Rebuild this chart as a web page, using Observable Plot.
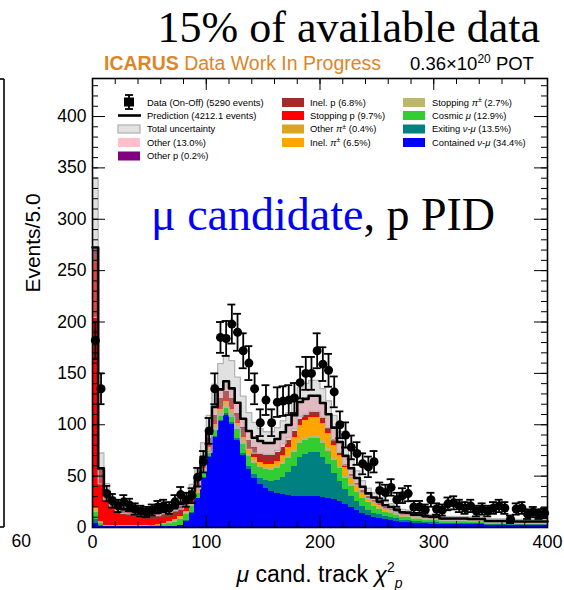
<!DOCTYPE html>
<html><head><meta charset="utf-8">
<script src="https://cdn.jsdelivr.net/npm/d3@7"></script>
<script src="https://cdn.jsdelivr.net/npm/@observablehq/plot@0.6"></script>
<style>body{margin:0;background:#fff} svg{display:block}</style>
</head><body><div id="chart"></div>
<script>
const binWidth = 5;
const categories = ["Contained ν-μ","Exiting ν-μ","Cosmic μ","Stopping π±","Inel. π±","Other π±","Stopping p","Inel. p","Other p","Other"];
const colors = ["#0000ff","#008080","#32cd32","#bdb76b","#ffa500","#daa520","#ff0000","#a52a2a","#800080","#ffc0cb"];

const containedNuMu = [4,1,0.5,0.5,0.5,0.5,0.5,0.5,0.5,0.5,0.5,0.5,0.5,0.8,1,2,6,14,28,48,68,88,103,109,100,85,70,56,48,42,38,35,33,32,31,30,30,30,30,30,29,28,27,25,22,19,17,14,12,10,9,8,7,6,5,5,4,4,3.5,3,3,3,3,3,3,3,2.5,2.5,2.5,2,2,2,2,1.5,1.5,1.5,1.5,1.5,1.5,1.5];
const exitingNuMu = [4,1,0.2,0.2,0.2,0.2,0.2,0.2,0.2,0.2,0.2,0.2,0.2,0.2,0.3,0.3,0.5,0.5,0.5,0.5,1,1,1,2,2,2,2,3,4,6,8,10,13,17,23,29,38,41,43,43,39,33,26,20,15,11,8,6,5,4,4,3,3,2.5,2,2,1.5,1.5,1.5,1.5,1.5,1,1,1,1,1,1,1,1,1,1,1,1,1,1,1,1,1,1,1];
const cosmicMu = [7,2,0.5,0.5,0.5,0.5,0.5,0.5,0.5,0.7,0.8,1,2,3,4,5,6,6,5,5,5,5,5,5,7,8,9,10,10,10,10,10,11,12,13,14,14,14,14,14,14,13,12,12,11,10,9,8,7,6,5,4,4,3,3,3,2.5,2.5,2,2,2,2,2,2,2,2,2,2,2,1.2,1.2,1.2,1.2,1.2,1.2,1.2,1.2,1.2,1.2,1.2];
const stoppingPi = [2,1,0.3,0.3,0.3,0.3,0.3,0.3,0.3,0.3,0.3,0.5,1,1,1.5,2,2,2,2,2,2,3,3,3,3,3,3,3,3,2,2,2,2,2.5,2.5,3,3,3,3,3,3,3,3,2.5,2,2,1.5,1,1,1,1,1,0.8,0.8,0.6,0.5,0.5,0.5,0.5,0.5,0.5,0.3,0.3,0.3,0.3,0.3,0.3,0.3,0.3,0.3,0.3,0.3,0.3,0.3,0.3,0.3,0.3,0.3,0.3,0.3];
const inelPi = [2,1,0.3,0.3,0.3,0.3,0.3,0.3,0.3,0.3,0.3,0.3,0.3,0.5,1,1,1,1.5,2,2,2,3,3,3,3,3,3,3,3,3,3,4,5,6,8,11,14,16,17,17,16,14,12,10,8,6,5,4,3,3,2,2,1.5,1.5,1.2,1,1,1,1,1,1,0.8,0.8,0.8,0.8,0.8,0.8,0.8,0.8,0.5,0.5,0.5,0.5,0.5,0.5,0.5,0.5,0.5,0.5,0.5];
const otherPi = [0.5,0,0,0,0,0,0,0,0,0,0,0,0,0,0,0,0,0,0.2,0.2,0.2,0.2,0.2,0.2,0.2,0.2,0.2,0.2,0.2,0.2,0.2,0.2,0.2,0.2,0.2,0.2,0.2,0.2,0.2,0.2,0.2,0.2,0.2,0.2,0.2,0.2,0.2,0.2,0.2,0.2,0.2,0,0,0,0,0,0,0,0,0,0,0,0,0,0,0,0,0,0,0,0,0,0,0,0,0,0,0,0,0];
const stoppingP = [238,40,24,16,12,10,9,8,7,6,5.5,5,4.5,4,4,3.5,3,3,3,3,3,3,3,3,3,3,2.5,2.5,2,2,2,2,2,2,2,2,2,2,2,2,2,2,2,1.5,1.5,1.5,1,1,1,1,1,0.8,0.8,0.8,0.7,0.7,0.6,0.6,0.6,0.6,0.6,0.4,0.4,0.4,0.4,0.4,0.4,0.4,0.4,0.4,0.4,0.4,0.4,0.4,0.4,0.4,0.4,0.4,0.4,0.4];
const inelP = [9,9,8,6,6,5,5,5,5,6,6,6,7,7,7,7,6,5,4,4,5,6,7,7,7,7,7,7,7,7,7,7,7,6,5,4,4,3,3,3,3,3,3,2,2,2,1.5,1.5,1,1,1,0.8,0.8,0.8,0.8,0.8,0.8,0.8,0.8,0.8,0.8,0.3,0.3,0.3,0.3,0.3,0.3,0.3,0.3,0.3,0.3,0.3,0.3,0.3,0.3,0.3,0.3,0.3,0.3,0.3];
const otherP = [3,0.5,0,0,0,0,0,0,0,0,0,0,0,0,0,0,0,0,0,0,0,0.2,0.2,0.2,0.2,0.2,0.2,0.2,0.2,0,0,0,0,0,0,0,0,0,0,0,0,0,0,0,0,0,0,0,0,0,0,0,0,0,0,0,0,0,0,0,0,0,0,0,0,0,0,0,0,0,0,0,0,0,0,0,0,0,0,0];
const other = [3,2,1,1,1,1,1,1,1,1,1,1,1,1.2,1.5,2,2,3,3,4,5,8,9,10,10,10,9,9,10,12,12,12,13,15,15,16,17,16,16,16,15,14,12,10,8,6,5,4,3,3,2,2,2,2,1.5,1.5,1.5,1.5,1.2,1.2,1.2,1,1,1,1,1,1,1,1,0.6,0.6,0.6,0.6,0.6,0.6,0.6,0.6,0.6,0.6,0.6];

const dataCounts = [182,135,33,26,21,25,22,18,16,15,17,20,21,19,25,32,27,31,49,64,94,135,185,184,198,190,172,160,135,102,124,102,122,123,124,126,141,150,150,172,159,153,132,100,90,78,72,62,59,64,36,34,39,27,31,33,20,20,17,27,18,17,23,24,21,19,21,16,18,16,19,21,19,8,18,19,13,15,13,14];
const dataErrors = [18,15,7.5,6.6,6,6.5,6,5.5,5.2,5,5.4,5.8,6,5.7,6.5,7.4,6.8,7.2,9,10.4,12.6,15,15,17,19,18,17,16.5,15,13,14.5,13,14.4,14.4,14.5,14.6,15.4,16,16,17,16.4,16,15,13,12.3,11.5,11,10.2,10,10.4,7.8,7.6,8,6.8,7.2,7.5,5.8,5.8,5.4,6.8,5.5,5.4,6.2,6.4,6,5.7,6,5.2,5.5,5.2,5.7,6,5.7,3.7,5.5,5.7,4.7,5,4.7,4.9];
const predUncertainty = [68,15,8,5,4,4,3.5,3.2,3,3,3,3,3.2,3.5,4,5,6,7,10,14,18,22,25,25,27,25,22,18,15,12,11,11,11,11,12,13,14,15,15,15,14,13,12,10,9,8,7,6,5,4.5,4,3.5,3.2,3,2.8,2.5,2.2,2.2,2.2,2.2,2.2,2,2,2,2,2,2,2,2,2,2,2,2,2,2,2,2,2,2,2];

const xTicks = [0,100,200,300,400];
const xMinorTicks = d3.range(0, 401, 20);
const yTicks = d3.range(0, 401, 50);
const yMinorTicks = d3.range(0, 431, 10);

const series = [containedNuMu, exitingNuMu, cosmicMu, stoppingPi, inelPi, otherPi, stoppingP, inelP, otherP, other];
const nBins = dataCounts.length;
const rows = [];
categories.forEach((c, k) => series[k].forEach((v, i) => rows.push({cat: c, x1: i*binWidth, x2: (i+1)*binWidth, v})));
const total = d3.range(nBins).map(i => d3.sum(series, s => s[i]));
const bins = d3.range(nBins).map(i => ({
  x1: i*binWidth, x2: (i+1)*binWidth, mid: (i+0.5)*binWidth,
  pred: total[i], lo: total[i]-predUncertainty[i], hi: total[i]+predUncertainty[i],
  d: dataCounts[i], dlo: dataCounts[i]-dataErrors[i], dhi: dataCounts[i]+dataErrors[i]
}));
const stepOf = key => bins.flatMap(b => [{x: b.x1, y: b[key]}, {x: b.x2, y: b[key]}]);

const W = 564, H = 590, mL = 92, mR = 17, mT = 78, mB = 63;
const fw = W - mL - mR, fh = H - mT - mB;
const capHalf = 3.5;

const plot = Plot.plot({
  width: W, height: H,
  marginLeft: mL, marginRight: mR, marginTop: mT, marginBottom: mB,
  style: {fontFamily: "'Liberation Sans', Arial, sans-serif", background: "white", overflow: "visible"},
  x: {domain: [0, 400], label: null},
  y: {domain: [0, 437], label: null},
  color: {domain: categories, range: colors},
  marks: [
    Plot.rectY(rows, {x1: "x1", x2: "x2", y: "v", fill: "cat", order: categories, shapeRendering: "crispEdges"}),
    Plot.rect(bins, {x1: "x1", x2: "x2", y1: "lo", y2: "hi", fill: "#b0b0b0", fillOpacity: 0.38, shapeRendering: "crispEdges"}),
    Plot.line(stepOf("hi"), {x: "x", y: "y", stroke: "#b4b4b4", strokeWidth: 1.3}),
    Plot.line(stepOf("lo"), {x: "x", y: "y", stroke: "#b4b4b4", strokeWidth: 1.3}),
    Plot.line(stepOf("pred"), {x: "x", y: "y", stroke: "black", strokeWidth: 2.6}),
    Plot.ruleX(bins, {x: "mid", y1: "dlo", y2: "dhi", stroke: "black", strokeWidth: 1.8, clip: true}),
    Plot.ruleY(bins, {y: "dhi", x1: b => b.mid - capHalf, x2: b => b.mid + capHalf, stroke: "black", strokeWidth: 1.8, clip: true}),
    Plot.ruleY(bins, {y: "dlo", x1: b => b.mid - capHalf, x2: b => b.mid + capHalf, stroke: "black", strokeWidth: 1.8, clip: true}),
    Plot.ruleY(bins, {y: "d", x1: "x1", x2: "x2", stroke: "black", strokeWidth: 1.8}),
    Plot.dot(bins, {x: "mid", y: "d", r: 4.5, fill: "black"}),
    Plot.frame({stroke: "black", strokeWidth: 1.6}),
    Plot.axisX({ticks: xTicks, tickSize: 0, tickPadding: 8, fontSize: 18}),
    Plot.axisY({ticks: yTicks, tickSize: 0, tickPadding: 6, fontSize: 17.5}),
    Plot.ruleX(xMinorTicks, {x: d => d, insetTop: fh - 6, stroke: "black", strokeWidth: 1}),
    Plot.ruleX(xTicks, {x: d => d, insetTop: fh - 12, stroke: "black", strokeWidth: 1}),
    Plot.ruleX(xMinorTicks, {x: d => d, insetBottom: fh - 6, stroke: "black", strokeWidth: 1}),
    Plot.ruleX(xTicks, {x: d => d, insetBottom: fh - 12, stroke: "black", strokeWidth: 1}),
    Plot.ruleY(yMinorTicks, {y: d => d, insetRight: fw - 6, stroke: "black", strokeWidth: 1}),
    Plot.ruleY(yTicks, {y: d => d, insetRight: fw - 13, stroke: "black", strokeWidth: 1}),
    Plot.ruleY(yMinorTicks, {y: d => d, insetLeft: fw - 6, stroke: "black", strokeWidth: 1}),
    Plot.ruleY(yTicks, {y: d => d, insetLeft: fw - 13, stroke: "black", strokeWidth: 1})
  ]
});
document.getElementById("chart").appendChild(plot);

// ---- texts & legend ----
const svg = d3.select(plot);
const SANS = "'Liberation Sans', Arial, sans-serif";
const SERIF = "'Liberation Serif', 'DejaVu Serif', serif";
function addText(x, y, parts, attrs = {}) {
  const t = svg.append("text").attr("x", x).attr("y", y).attr("text-anchor", "start");
  for (const [k, v] of Object.entries(attrs)) t.attr(k, v);
  let shift = 0;
  for (const p of parts) {
    const s = t.append("tspan").text(p.t);
    const want = p.sup ? -p.sup : p.sub ? p.sub : 0;
    if (want !== shift) { s.attr("dy", want - shift); shift = want; }
    if (p.italic) s.attr("font-style", "italic");
    if (p.bold) s.attr("font-weight", "bold");
    if (p.fill) s.attr("fill", p.fill);
    if (p.size) s.attr("font-size", p.size);
  }
  return t;
}
addText(540, 42, [{t: "15% of available data"}], {"font-family": SERIF, "font-size": 44, "text-anchor": "end", fill: "black"});
addText(104, 70, [{t: "ICARUS", bold: true}, {t: " Data Work In Progress"}], {"font-family": SANS, "font-size": 19.5, fill: "#dd8527"});
addText(410, 70, [{t: "0.36×10"}, {t: "20", sup: 7, size: 12}, {t: " POT"}], {"font-family": SANS, "font-size": 18.5, fill: "black"});
addText(151, 230, [{t: "μ candidate", fill: "#0000ff"}, {t: ", p PID", fill: "black"}], {"font-family": SERIF, "font-size": 46});
addText(0, 0, [{t: "Events/5.0"}], {"font-family": SANS, "font-size": 21, "text-anchor": "middle", transform: "translate(40,243) rotate(-90)", fill: "black"});
addText(319.5, 582, [{t: "μ", italic: true}, {t: " cand. track "}, {t: "χ", italic: true}, {t: "2", sup: 10, size: 14}, {t: "p", sub: 6, size: 14, italic: true}], {"font-family": SANS, "font-size": 23, "text-anchor": "middle", fill: "black"});

// legend
const LS = 9.4;
const legend = svg.append("g");
function swatch(x, y, color) {
  legend.append("rect").attr("x", x).attr("y", y - 4.5).attr("width", 22).attr("height", 9).attr("fill", color);
}
legend.append("line").attr("x1", 129).attr("x2", 129).attr("y1", 95).attr("y2", 109).attr("stroke", "black").attr("stroke-width", 1.8);
legend.append("line").attr("x1", 125).attr("x2", 133).attr("y1", 95).attr("y2", 95).attr("stroke", "black").attr("stroke-width", 1.8);
legend.append("line").attr("x1", 125).attr("x2", 133).attr("y1", 109).attr("y2", 109).attr("stroke", "black").attr("stroke-width", 1.8);
legend.append("rect").attr("x", 124).attr("y", 97.5).attr("width", 10).attr("height", 9).attr("fill", "black");
legend.append("line").attr("x1", 118).attr("x2", 141).attr("y1", 115.5).attr("y2", 115.5).attr("stroke", "black").attr("stroke-width", 2.6);
legend.append("rect").attr("x", 118).attr("y", 125).attr("width", 22).attr("height", 8).attr("fill", "#e2e2e2").attr("stroke", "#b4b4b4").attr("stroke-width", 1.3);
swatch(118, 142.5, colors[9]);
swatch(118, 156, colors[8]);
const c1 = [
  [[{t: "Data (On-Off) (5290 events)"}], 102.5],
  [[{t: "Prediction (4212.1 events)"}], 115.5],
  [[{t: "Total uncertainty"}], 129],
  [[{t: "Other (13.0%)"}], 142.5],
  [[{t: "Other p (0.2%)"}], 156]
];
c1.forEach(([p, y]) => addText(147, y + 3.4, p, {"font-family": SANS, "font-size": LS, fill: "black"}));
const c2 = [
  [colors[7], [{t: "Inel. p (6.8%)"}], 102.5],
  [colors[6], [{t: "Stopping p (9.7%)"}], 115.5],
  [colors[5], [{t: "Other "}, {t: "π", italic: true}, {t: "±", sup: 3.5, size: 7}, {t: " (0.4%)"}], 129],
  [colors[4], [{t: "Inel. "}, {t: "π", italic: true}, {t: "±", sup: 3.5, size: 7}, {t: " (6.5%)"}], 142.5]
];
c2.forEach(([c, p, y]) => { swatch(282, y, c); addText(310, y + 3.4, p, {"font-family": SANS, "font-size": LS, fill: "black"}); });
const c3 = [
  [colors[3], [{t: "Stopping "}, {t: "π", italic: true}, {t: "±", sup: 3.5, size: 7}, {t: " (2.7%)"}], 102.5],
  [colors[2], [{t: "Cosmic "}, {t: "μ", italic: true}, {t: " (12.9%)"}], 115.5],
  [colors[1], [{t: "Exiting "}, {t: "ν", italic: true}, {t: "-"}, {t: "μ", italic: true}, {t: " (13.5%)"}], 129],
  [colors[0], [{t: "Contained "}, {t: "ν", italic: true}, {t: "-"}, {t: "μ", italic: true}, {t: " (34.4%)"}], 142.5]
];
c3.forEach(([c, p, y]) => { swatch(403, y, c); addText(432, y + 3.4, p, {"font-family": SANS, "font-size": LS, fill: "black"}); });

// fragment of the neighbouring panel at the far left
svg.append("line").attr("x1", 4).attr("x2", 4).attr("y1", 79).attr("y2", 527).attr("stroke", "black").attr("stroke-width", 1.6);
svg.append("line").attr("x1", 0).attr("x2", 4).attr("y1", 79).attr("y2", 79).attr("stroke", "black").attr("stroke-width", 1.6);
svg.append("line").attr("x1", 0).attr("x2", 4).attr("y1", 527).attr("y2", 527).attr("stroke", "black").attr("stroke-width", 1.6);
addText(31, 547, [{t: "60"}], {"font-family": SANS, "font-size": 17.5, "text-anchor": "end", fill: "black"});
</script></body></html>
